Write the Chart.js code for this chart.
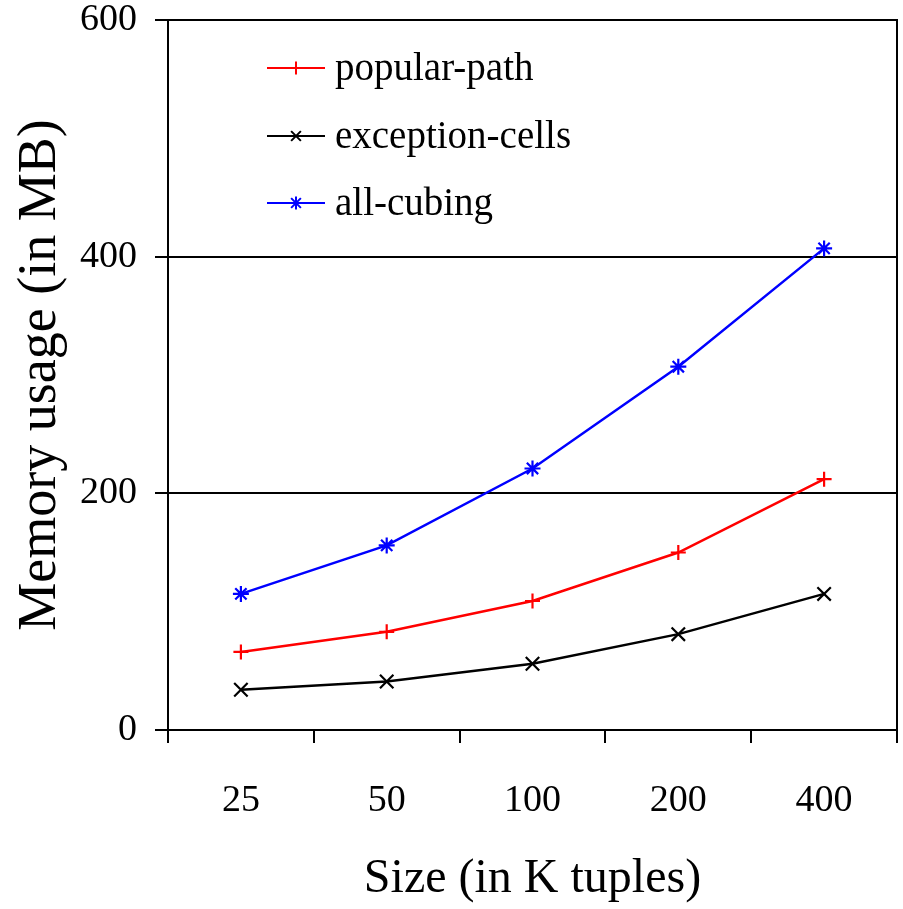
<!DOCTYPE html>
<html>
<head>
<meta charset="utf-8">
<script src="https://cdn.jsdelivr.net/npm/chart.js@4/dist/chart.umd.min.js"></script>
<style>
  html, body { margin: 0; padding: 0; background: #fff; }
  #wrap { width: 903px; height: 909px; }
</style>
</head>
<body>
<div id="wrap"><canvas id="memChart"></canvas></div>
<script>
const sizes = ['25', '50', '100', '200', '400'];
const popularPath = [66, 83, 109, 150, 212];
const exceptionCells = [34, 41, 56, 81, 115];
const allCubing = [115, 156, 221, 307, 407];
const yTicks = [0, 200, 400, 600];

const serif = 'Liberation Serif, Times New Roman, serif';

// legend drawn inside the plot, line sample + marker + label
const insideLegend = {
    id: 'insideLegend',
    afterDatasetsDraw(chart) {
        const ctx = chart.ctx;
        const x0 = 267, x1 = 325, rowY = [68, 136, 203];
        chart.data.datasets.forEach((ds, i) => {
            const y = rowY[i];
            const xm = (x0 + x1) / 2;
            const r = 6.5;
            ctx.save();
            ctx.strokeStyle = ds.borderColor;
            ctx.lineWidth = 2;
            ctx.beginPath();
            ctx.moveTo(x0, y);
            ctx.lineTo(x1, y);
            if (ds.pointStyle === 'cross' || ds.pointStyle === 'star') {
                ctx.moveTo(xm, y - r);
                ctx.lineTo(xm, y + r);
            }
            if (ds.pointStyle === 'crossRot' || ds.pointStyle === 'star') {
                const d = r * 0.75;
                ctx.moveTo(xm - d, y - d);
                ctx.lineTo(xm + d, y + d);
                ctx.moveTo(xm - d, y + d);
                ctx.lineTo(xm + d, y - d);
            }
            ctx.stroke();
            ctx.fillStyle = '#000';
            ctx.font = '39px ' + serif;
            ctx.textBaseline = 'middle';
            ctx.textAlign = 'left';
            ctx.fillText(ds.label, 335, y + 2);
            ctx.restore();
        });
    }
};

// frame on the right edge of the plot
const frame = {
    id: 'frame',
    beforeDatasetsDraw(chart) {
        const a = chart.chartArea;
        const ctx = chart.ctx;
        ctx.save();
        ctx.strokeStyle = '#000';
        ctx.lineWidth = 2;
        ctx.beginPath();
        ctx.moveTo(a.right, a.top - 1);
        ctx.lineTo(a.right, a.bottom + 1);
        ctx.stroke();
        ctx.restore();
    }
};

const ctx = document.getElementById('memChart').getContext('2d');
const memChart = new Chart(ctx, {
    type: 'line',
    data: {
        labels: sizes,
        datasets: [
            {
                label: 'popular-path',
                data: popularPath,
                borderColor: '#ff0000',
                backgroundColor: '#ff0000',
                pointStyle: 'cross',
                pointRadius: 7.5,
            },
            {
                label: 'exception-cells',
                data: exceptionCells,
                borderColor: '#000000',
                backgroundColor: '#000000',
                pointStyle: 'crossRot',
                pointRadius: 9.5,
            },
            {
                label: 'all-cubing',
                data: allCubing,
                borderColor: '#0000ff',
                backgroundColor: '#0000ff',
                pointStyle: 'star',
                pointRadius: 8,
            }
        ]
    },
    options: {
        responsive: true,
        maintainAspectRatio: false,
        animation: false,
        layout: {
            autoPadding: false,
            padding: { top: 20, right: 6, left: 0, bottom: 0 }
        },
        elements: {
            line: { borderWidth: 2.5, tension: 0 },
            point: { borderWidth: 2.2 }
        },
        plugins: {
            legend: { display: false },
            tooltip: { enabled: false }
        },
        scales: {
            x: {
                offset: true,
                grid: {
                    offset: true,
                    drawOnChartArea: false,
                    drawTicks: true,
                    tickLength: 13,
                    color: '#000',
                    lineWidth: 2
                },
                border: { display: false },
                ticks: {
                    color: '#000',
                    font: { family: serif, size: 38, lineHeight: 1.05 },
                    padding: 38
                },
                title: {
                    display: true,
                    text: 'Size (in K tuples)',
                    color: '#000',
                    font: { family: serif, size: 48 },
                    padding: { top: 0, bottom: 1 }
                },
                afterFit(scale) {
                    scale.height = 179;
                    scale.paddingLeft = 0;
                    scale.paddingRight = 0;
                }
            },
            y: {
                min: 0,
                max: 600,
                afterBuildTicks(scale) {
                    scale.ticks = yTicks.map(v => ({ value: v }));
                },
                grid: {
                    color: '#000',
                    lineWidth: 2,
                    tickLength: 13
                },
                border: { display: true, color: '#000', width: 2 },
                ticks: {
                    color: '#000',
                    font: { family: serif, size: 38, lineHeight: 1.05 },
                    padding: 18
                },
                title: {
                    display: true,
                    text: 'Memory usage (in MB)',
                    color: '#000',
                    font: { family: serif, size: 54 },
                    padding: { top: 8, bottom: 0 }
                },
                afterFit(scale) {
                    scale.width = 168;
                    scale.paddingTop = 0;
                    scale.paddingBottom = 0;
                }
            }
        }
    },
    plugins: [frame, insideLegend]
});
</script>
</body>
</html>
